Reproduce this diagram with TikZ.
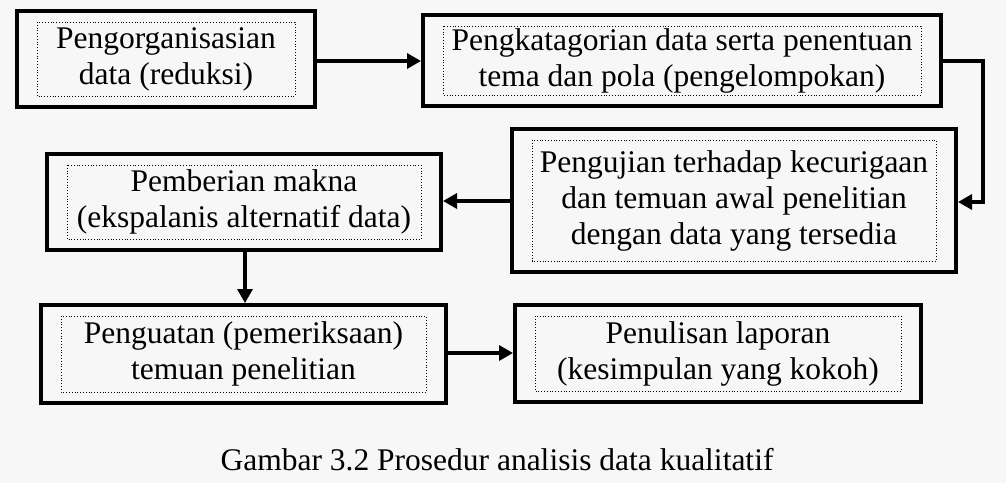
\documentclass[tikz,border=0pt]{standalone}
\usepackage{fontspec}
\setmainfont{Liberation Serif}
\usetikzlibrary{arrows.meta}
\definecolor{bgc}{RGB}{247,247,247}
\tikzset{
  stepbox/.style={draw=black, line width=4pt, fill=bgc, inner sep=0pt, align=center,
    font=\fontsize{31.5}{36}\selectfont,
    path picture={\draw[black, line width=0.8pt, dotted]
      ([shift={(20pt,-11pt)}]path picture bounding box.north west) rectangle
      ([shift={(-20pt,11pt)}]path picture bounding box.south east);}},
  conn/.style={draw=black, line width=3.3pt, -{Triangle[length=14pt,width=15pt]}},
  captxt/.style={font=\fontsize{31.5}{36}\selectfont, anchor=base, inner sep=0pt}
}
\begin{document}
\begin{tikzpicture}[x=1pt,y=-1pt]
\fill[bgc] (0,0) rectangle (1006,483);
\useasboundingbox (0,0) rectangle (1006,483);
\node[stepbox, minimum width=298pt, minimum height=96pt] (b1) at (166,59)
  {Pengorganisasian\\data (reduksi)};
\node[stepbox, minimum width=518pt, minimum height=91pt] (b2) at (682,60.5)
  {Pengkatagorian data serta penentuan\\tema dan pola (pengelompokan)};
\node[stepbox, minimum width=444pt, minimum height=143pt] (b3) at (734,200.5)
  {Pengujian terhadap kecurigaan\\dan temuan awal penelitian\\dengan data yang tersedia};
\node[stepbox, minimum width=394pt, minimum height=96pt] (b4) at (244,202)
  {Pemberian makna\\(ekspalanis alternatif data)};
\node[stepbox, minimum width=405pt, minimum height=98pt] (b5) at (243.5,354)
  {Penguatan (pemeriksaan)\\temuan penelitian};
\node[stepbox, minimum width=406pt, minimum height=97pt] (b6) at (718,353.5)
  {Penulisan laporan\\(kesimpulan yang kokoh)};
\node[captxt] (cap) at (497,470) {Gambar 3.2 Prosedur analisis data kualitatif};
\coordinate (c1) at (983,61);
\coordinate (c2) at (983,202);
\draw[conn] (b1.east |- 0,61) -- (b2.west |- 0,61);
\draw[conn] (b2.east |- c1) -- (c1) -- (c2) -- (b3.east |- c2);
\draw[conn] (b3.west |- 0,201) -- (b4.east |- 0,201);
\draw[conn] (b4.south -| 245,0) -- (b5.north -| 245,0);
\draw[conn] (b5.east |- 0,353) -- (b6.west |- 0,353);
\end{tikzpicture}
\end{document}
